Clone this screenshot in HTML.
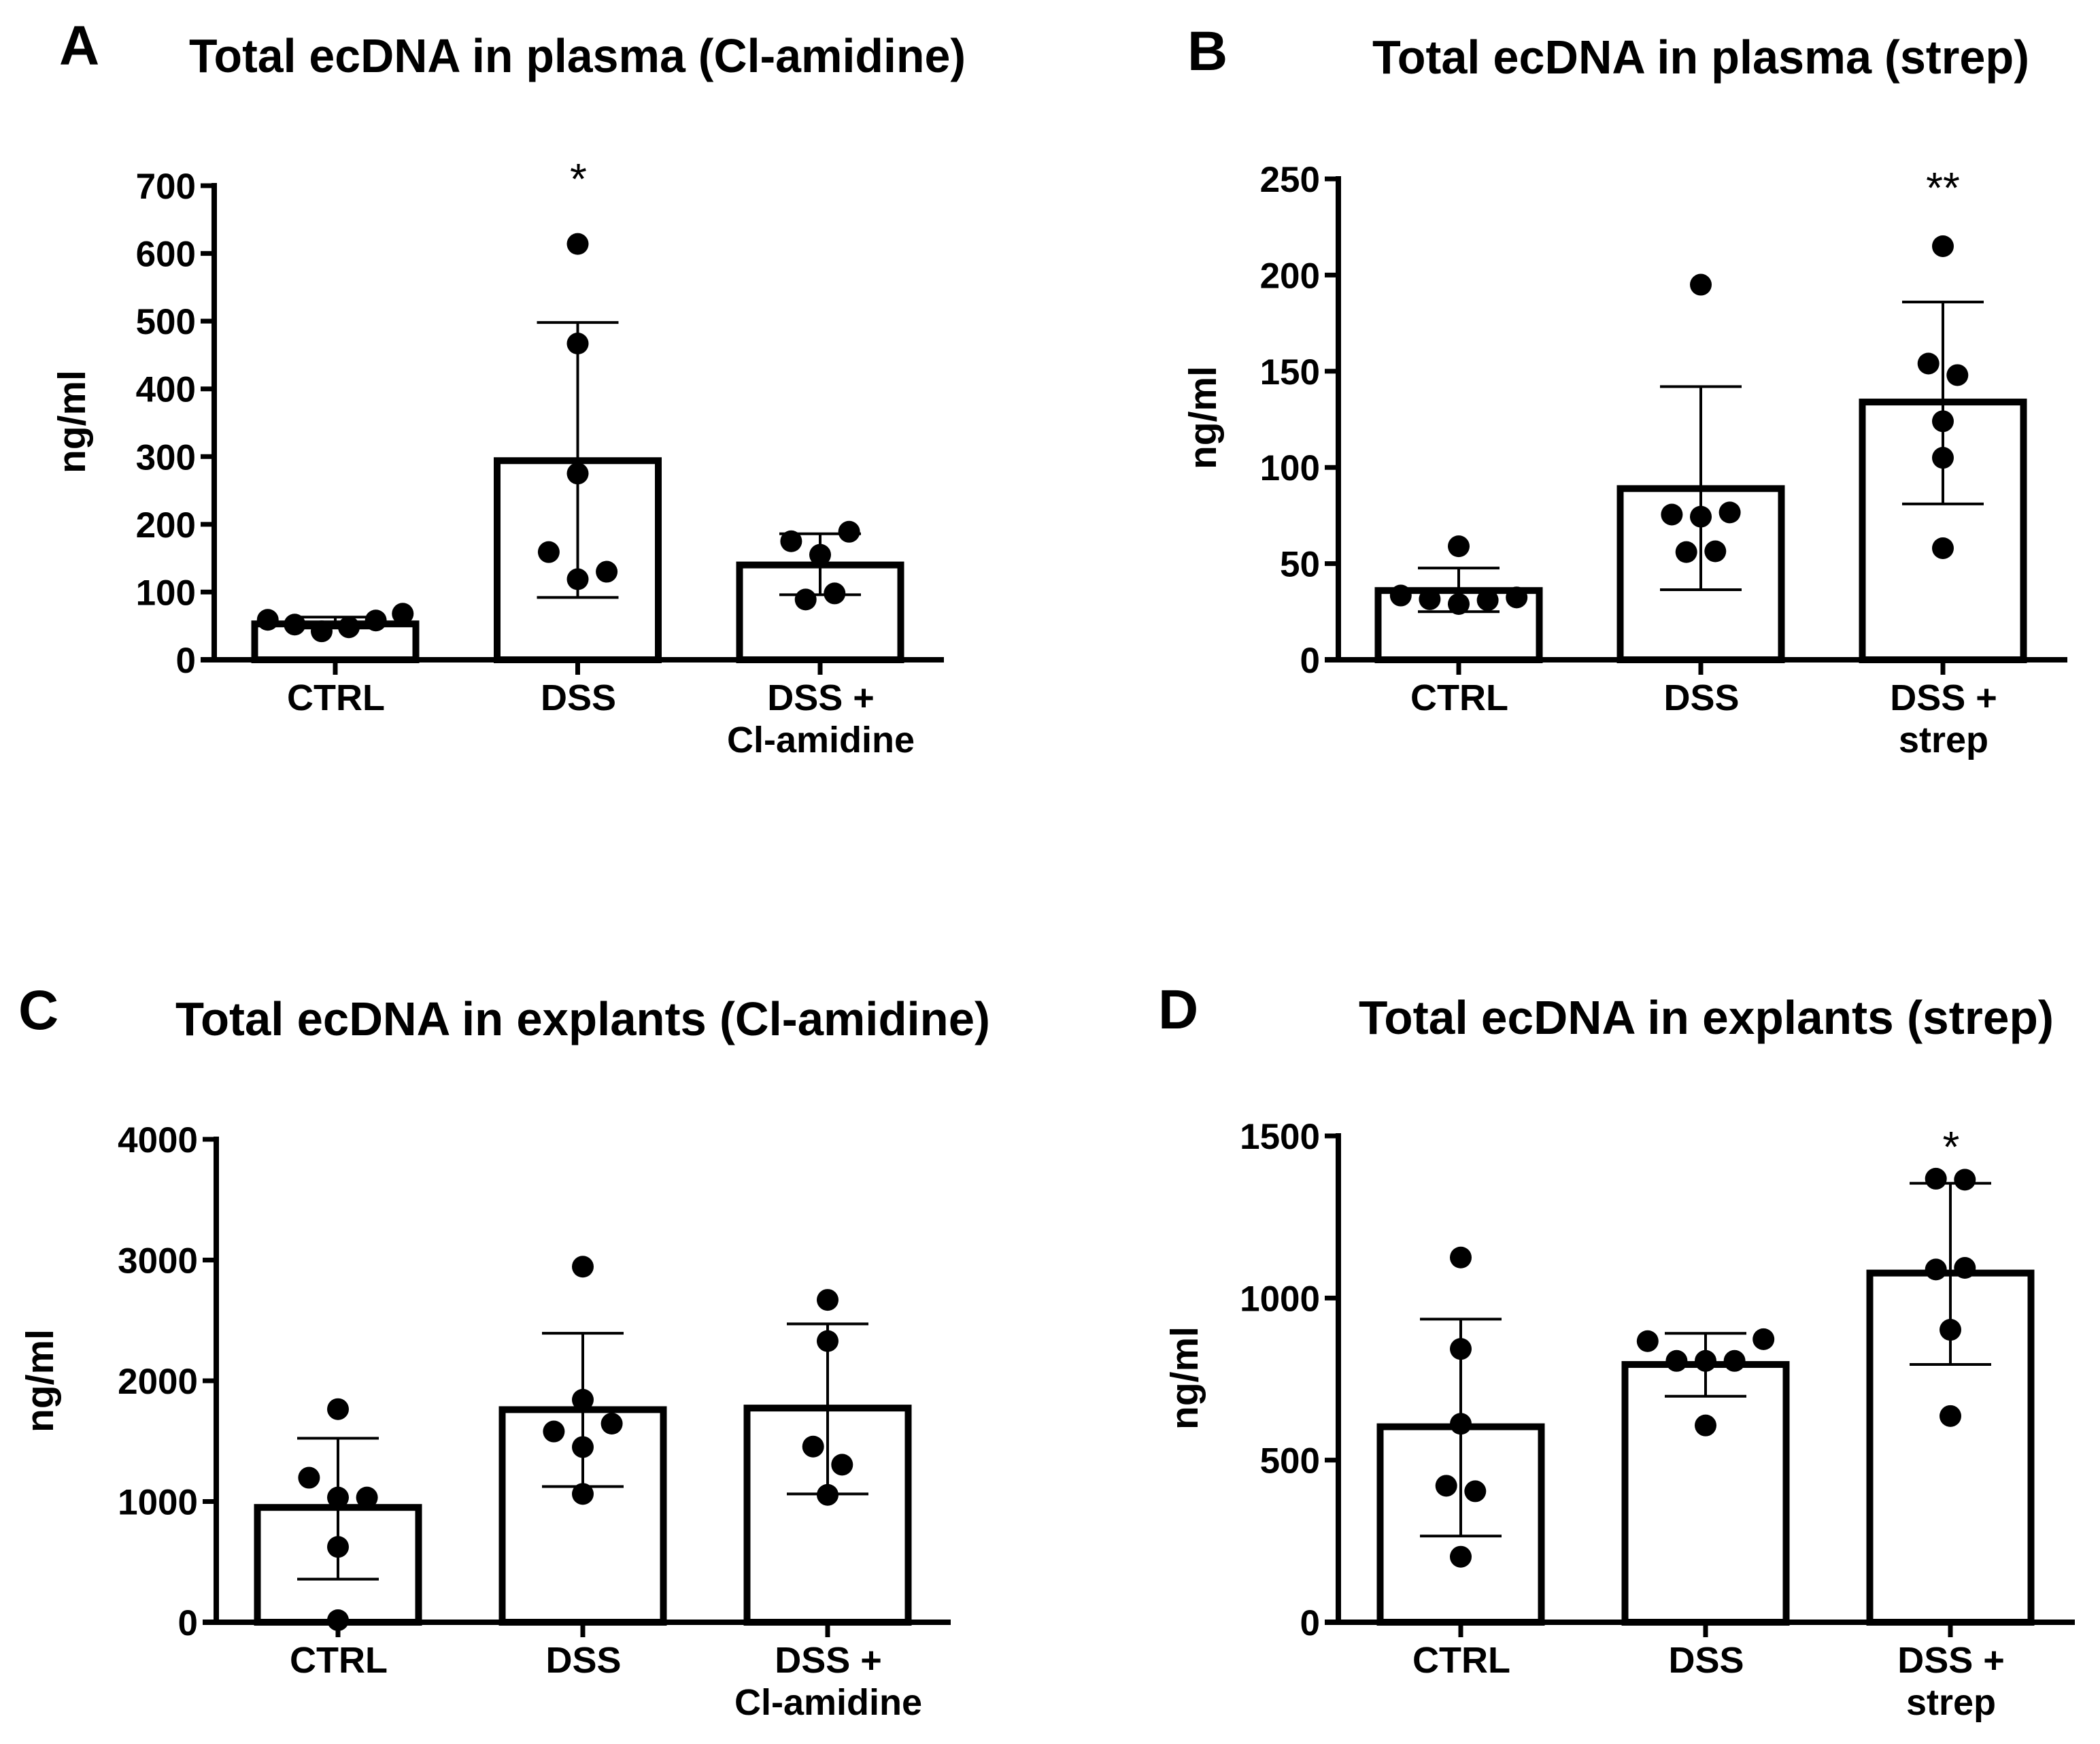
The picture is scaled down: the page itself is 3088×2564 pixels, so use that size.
<!DOCTYPE html>
<html lang="en">
<head>
<meta charset="utf-8">
<title>Total ecDNA charts</title>
<style>
html,body{margin:0;padding:0;background:#fff;}
svg{display:block;}
text{font-family:"Liberation Sans",Arial,sans-serif;fill:#000;}
.bold{font-weight:700;}
.title{font-weight:700;font-size:70px;}
.letter{font-weight:700;font-size:82px;}
.axis-title{font-weight:700;font-size:57px;}
</style>
</head>
<body>
<svg id="figure" xmlns="http://www.w3.org/2000/svg" width="3088" height="2564" viewBox="0 0 3088 2564">
  <rect x="0" y="0" width="3088" height="2564" fill="#fff"/>
  <text class="letter" x="87" y="95">A</text>
  <text class="letter" x="1746" y="103">B</text>
  <text class="letter" x="27" y="1513">C</text>
  <text class="letter" x="1703" y="1512">D</text>
  <text class="title" x="278" y="106" textLength="1142" lengthAdjust="spacingAndGlyphs">Total ecDNA in plasma (Cl-amidine)</text>
  <text class="title" x="2018" y="108" textLength="966" lengthAdjust="spacingAndGlyphs">Total ecDNA in plasma (strep)</text>
  <text class="title" x="258" y="1522" textLength="1198" lengthAdjust="spacingAndGlyphs">Total ecDNA in explants (Cl-amidine)</text>
  <text class="title" x="1998" y="1520" textLength="1022" lengthAdjust="spacingAndGlyphs">Total ecDNA in explants (strep)</text>
  <text class="axis-title" transform="translate(125 696) rotate(-90)">ng/ml</text>
  <text class="axis-title" transform="translate(1788 690) rotate(-90)">ng/ml</text>
  <text class="axis-title" transform="translate(78 2106) rotate(-90)">ng/ml</text>
  <text class="axis-title" transform="translate(1761 2102) rotate(-90)">ng/ml</text>
</svg>
<script>
// ---------- Panel A ----------
const panelACategories = ['CTRL', 'DSS', 'DSS +\nCl-amidine'];
const panelATicks = [0, 100, 200, 300, 400, 500, 600, 700];
const panelAMeans = [53, 294, 140];
const panelAErrHigh = [63, 498, 186];
const panelAErrLow = [47, 92, 96];
const panelAGroup1 = [59, 52, 42, 48, 58, 68];
const panelAGroup2 = [614, 467, 275, 159, 119, 130];
const panelAGroup3 = [189, 175, 155, 98, 89];
const panelAJitter1 = [-2.33, -1.4, -0.47, 0.47, 1.4, 2.33];
const panelAJitter2 = [0, 0, 0, -1, 0, 1];
const panelAJitter3 = [1, -1, 0, 0.5, -0.5];
const panelASignif = ['', '*', ''];

// ---------- Panel B ----------
const panelBCategories = ['CTRL', 'DSS', 'DSS +\nstrep'];
const panelBTicks = [0, 50, 100, 150, 200, 250];
const panelBMeans = [36, 89, 134];
const panelBErrHigh = [47.7, 142, 186];
const panelBErrLow = [25, 36.4, 81];
const panelBGroup1 = [59, 33.4, 31.5, 29, 31, 32.4];
const panelBGroup2 = [195, 76.6, 75.5, 74.4, 56, 56.4];
const panelBGroup3 = [215, 154, 148, 124, 105, 58];
const panelBJitter1 = [0, -2, -1, 0, 1, 2];
const panelBJitter2 = [0, 1, -1, 0, -0.5, 0.5];
const panelBJitter3 = [0, -0.5, 0.5, 0, 0, 0];
const panelBSignif = ['', '', '**'];

// ---------- Panel C ----------
const panelCCategories = ['CTRL', 'DSS', 'DSS +\nCl-amidine'];
const panelCTicks = [0, 1000, 2000, 3000, 4000];
const panelCMeans = [951, 1761, 1774];
const panelCErrHigh = [1524, 2394, 2471];
const panelCErrLow = [357, 1124, 1063];
const panelCGroup1 = [1765, 1197, 1033, 1033, 624, 17];
const panelCGroup2 = [2945, 1843, 1645, 1580, 1451, 1063];
const panelCGroup3 = [2670, 2329, 1455, 1305, 1055];
const panelCJitter1 = [0, -1, 0, 1, 0, 0];
const panelCJitter2 = [0, 0, 1, -1, 0, 0];
const panelCJitter3 = [0, 0, -0.5, 0.5, 0];
const panelCSignif = ['', '', ''];

// ---------- Panel D ----------
const panelDCategories = ['CTRL', 'DSS', 'DSS +\nstrep'];
const panelDTicks = [0, 500, 1000, 1500];
const panelDMeans = [603, 795, 1077];
const panelDErrHigh = [935, 891, 1354];
const panelDErrLow = [266, 697, 795];
const panelDGroup1 = [1125, 843, 612, 421, 404, 202];
const panelDGroup2 = [867, 873, 806, 806, 806, 607];
const panelDGroup3 = [1368, 1365, 1088, 1093, 902, 636];
const panelDJitter1 = [0, 0, 0, -0.5, 0.5, 0];
const panelDJitter2 = [-2, 2, -1, 0, 1, 0];
const panelDJitter3 = [-0.5, 0.5, -0.5, 0.5, 0, 0];
const panelDSignif = ['', '', '*'];

const svgNS = 'http://www.w3.org/2000/svg';
const figure = document.getElementById('figure');
const JITTER_STEP = 42.6;

function mk(tag, attrs, parent) {
  const node = document.createElementNS(svgNS, tag);
  for (const k in attrs) node.setAttribute(k, attrs[k]);
  parent.appendChild(node);
  return node;
}

function drawPanel(id, layout, d) {
  const yMax = d.ticks[d.ticks.length - 1];
  const yScale = v => layout.base - (v / yMax) * (layout.base - layout.top);
  const xScale = i => layout.first + i * layout.step;
  const g = mk('g', {}, figure);
  
  

  // bars
  d.means.forEach((m, i) => {
    const bar = mk('rect', {
      x: xScale(i) - 118.5, y: yScale(m), width: 237, height: layout.base - yScale(m),
      fill: '#fff', stroke: '#000', 'stroke-width': 10
    }, g);
    
    
  });

  // error bars
  d.means.forEach((m, i) => {
    const cx = xScale(i);
    const stem = mk('line', { x1: cx, x2: cx, y1: yScale(d.errHigh[i]), y2: yScale(d.errLow[i]), stroke: '#000', 'stroke-width': 4 }, g);
    
    
    [d.errHigh[i], d.errLow[i]].forEach(v => {
      const cap = mk('line', { x1: cx - 60, x2: cx + 60, y1: yScale(v), y2: yScale(v), stroke: '#000', 'stroke-width': 4 }, g);
      
      
    });
  });

  // axes
  const yAxis = mk('line', { x1: layout.axisX, x2: layout.axisX, y1: layout.top - 4, y2: layout.base + 4, stroke: '#000', 'stroke-width': 8 }, g);
  
  
  const xAxis = mk('line', { x1: layout.axisX - 20, x2: layout.xEnd, y1: layout.base, y2: layout.base, stroke: '#000', 'stroke-width': 8 }, g);
  
  

  // y ticks
  d.ticks.forEach(t => {
    const y = yScale(t);
    const tick = mk('line', { x1: layout.axisX - 20, x2: layout.axisX, y1: y, y2: y, stroke: '#000', 'stroke-width': 7 }, g);
    
    
    const label = mk('text', { x: layout.axisX - 27, y: y + 19, 'text-anchor': 'end', 'font-size': 53, class: 'bold' }, g);
    label.textContent = String(t);
    
    
  });

  // x ticks and category labels
  d.categories.forEach((c, i) => {
    const cx = xScale(i);
    const tick = mk('line', { x1: cx, x2: cx, y1: layout.base, y2: layout.base + 22, stroke: '#000', 'stroke-width': 7 }, g);
    
    
    c.split('\n').forEach((line, n) => {
      const label = mk('text', { x: cx + 1, y: layout.base + 74 + n * 62, 'text-anchor': 'middle', 'font-size': 54, class: 'bold' }, g);
      label.textContent = line;
      
      
    });
  });

  // points
  d.groups.forEach((vals, i) => {
    vals.forEach((v, n) => {
      const dot = mk('ellipse', { cx: xScale(i) + d.jitter[i][n] * JITTER_STEP, cy: yScale(v), rx: 16, ry: 16, fill: '#000' }, g);
      
      
    });
  });

  // significance stars
  d.signif.forEach((s, i) => {
    if (!s) return;
    const star = mk('text', { x: xScale(i) + layout.starDx, y: layout.starY, 'text-anchor': 'middle', 'font-size': 64 }, g);
    star.textContent = s;
    
    
  });
}

drawPanel('a', { axisX: 315, top: 273, base: 970, xEnd: 1388, first: 493, step: 356.5, starY: 285, starDx: 1 }, {
  categories: panelACategories, ticks: panelATicks, means: panelAMeans,
  errHigh: panelAErrHigh, errLow: panelAErrLow,
  groups: [panelAGroup1, panelAGroup2, panelAGroup3],
  jitter: [panelAJitter1, panelAJitter2, panelAJitter3], signif: panelASignif
});
drawPanel('b', { axisX: 1968, top: 263, base: 970, xEnd: 3040, first: 2145, step: 356, starY: 298, starDx: 0 }, {
  categories: panelBCategories, ticks: panelBTicks, means: panelBMeans,
  errHigh: panelBErrHigh, errLow: panelBErrLow,
  groups: [panelBGroup1, panelBGroup2, panelBGroup3],
  jitter: [panelBJitter1, panelBJitter2, panelBJitter3], signif: panelBSignif
});
drawPanel('c', { axisX: 318, top: 1675, base: 2385, xEnd: 1398, first: 497, step: 360, starY: 0, starDx: 0 }, {
  categories: panelCCategories, ticks: panelCTicks, means: panelCMeans,
  errHigh: panelCErrHigh, errLow: panelCErrLow,
  groups: [panelCGroup1, panelCGroup2, panelCGroup3],
  jitter: [panelCJitter1, panelCJitter2, panelCJitter3], signif: panelCSignif
});
drawPanel('d', { axisX: 1968, top: 1670, base: 2385, xEnd: 3051, first: 2148, step: 360, starY: 1708, starDx: 1 }, {
  categories: panelDCategories, ticks: panelDTicks, means: panelDMeans,
  errHigh: panelDErrHigh, errLow: panelDErrLow,
  groups: [panelDGroup1, panelDGroup2, panelDGroup3],
  jitter: [panelDJitter1, panelDJitter2, panelDJitter3], signif: panelDSignif
});
</script>
</body>
</html>
